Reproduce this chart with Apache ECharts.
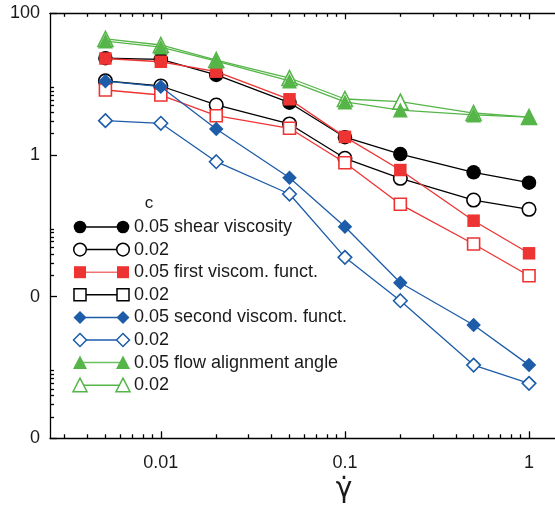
<!DOCTYPE html>
<html>
<head>
<meta charset="utf-8">
<script src="https://cdn.jsdelivr.net/npm/echarts@6/dist/echarts.min.js"></script>
<style>html,body{margin:0;padding:0;background:#fff;}#c{width:555px;height:516px;}</style>
</head>
<body>
<div id="c"></div>
<script>
// ---- data ----
const shearRate = [0.005, 0.01, 0.02, 0.05, 0.1, 0.2, 0.5, 1];
const shear005 = [23.2, 22.4, 13.5, 5.47, 1.78, 1.03, 0.569, 0.406];
const shear002 = [11.1, 9.41, 5.08, 2.74, 0.897, 0.468, 0.231, 0.171];
const visc1_005 = [23.0, 20.7, 15.0, 6.11, 1.80, 0.613, 0.118, 0.0409];
const visc1_002 = [8.26, 7.02, 3.58, 2.38, 0.777, 0.201, 0.0553, 0.0197];
const visc2_005 = [11.0, 9.20, 2.33, 0.478, 0.0971, 0.0157, 0.00397, 0.00108];
const visc2_002 = [3.05, 2.80, 0.803, 0.281, 0.0359, 0.00876, 0.00108, 0.000597];
const flow005 = [40.6, 33.4, 21.2, 11.1, 5.6, 4.31, 3.67, 3.43];
const flow002 = [43.4, 35.7, 21.9, 12.2, 6.17, 5.65, 3.91, 3.43];

const legendNames = ['0.05 shear viscosity', '0.02', '0.05 first viscom. funct.', '0.02',
  '0.05 second viscom. funct.', '0.02', '0.05 flow alignment angle', '0.02'];
const legendTitle = 'c';
const xAxisTitle = 'γ̇';

const xTickVals = [0.01, 0.1, 1];
const xTickLabels = ['0.01', '0.1', '1'];
const xMinorVals = [0.003,0.004,0.005,0.006,0.007,0.008,0.009,
  0.02,0.03,0.04,0.05,0.06,0.07,0.08,0.09,
  0.2,0.3,0.4,0.5,0.6,0.7,0.8,0.9];
const yTickVals = [0.0001, 0.01, 1, 100];
const yTickLabels = ['0', '0', '1', '100'];
const yMinorVals = [0.0002,0.0003,0.0004,0.0005,0.0006,0.0007,0.0008,0.0009,
  0.02,0.03,0.04,0.05,0.06,0.07,0.08,0.09,
  2,3,4,5,6,7,8,9];

// ---- styles ----
const BLACK = '#000000', RED = '#ee3333', BLUE = '#1c5ca8', GREEN = '#55b548';
const FONT = 'Liberation Sans, Arial, sans-serif';

function nearestLabel(v, vals, labels) {
  let best = 0, bd = Infinity;
  for (let i = 0; i < vals.length; i++) {
    const d = Math.abs(Math.log10(v) - Math.log10(vals[i]));
    if (d < bd) { bd = d; best = i; }
  }
  return labels[best];
}

const seriesDefs = [
  {data: shear005, color: BLACK, symbol: 'circle', size: 14.5, empty: false},
  {data: shear002, color: BLACK, symbol: 'circle', size: 13.5, empty: true},
  {data: visc1_005, color: RED, symbol: 'rect', size: 12.5, empty: false},
  {data: visc1_002, color: RED, symbol: 'rect', size: 12, empty: true},
  {data: visc2_005, color: BLUE, symbol: 'diamond', size: 14.5, empty: false},
  {data: visc2_002, color: BLUE, symbol: 'diamond', size: 13.5, empty: true},
  {data: flow002, color: GREEN, symbol: 'triangle', size: 15, empty: true},
  {data: flow005, color: GREEN, symbol: 'triangle', size: 15, empty: false}
];

const series = seriesDefs.map((d, i) => ({
  type: 'line',
  xAxisIndex: 0, yAxisIndex: 0,
  data: shearRate.map((x, k) => [x, d.data[k]]),
  symbol: d.symbol,
  symbolSize: d.size,
  showAllSymbol: true,
  z: 2 + i,
  lineStyle: {color: d.color, width: 1.3},
  itemStyle: d.empty ? {color: '#fff', borderColor: d.color, borderWidth: 1.6}
                     : {color: d.color, borderWidth: 0},
  emphasis: {disabled: true},
  animation: false
}));

// ---- legend (graphic) ----
const legendItems = [
  {shape: 'circle', fill: BLACK, stroke: BLACK, line: BLACK},
  {shape: 'circle', fill: '#fff', stroke: BLACK, line: BLACK},
  {shape: 'rect', fill: RED, stroke: RED, line: '#f07474'},
  {shape: 'rect', fill: '#fff', stroke: BLACK, line: BLACK},
  {shape: 'diamond', fill: BLUE, stroke: BLUE, line: BLUE},
  {shape: 'diamond', fill: '#fff', stroke: BLUE, line: BLUE},
  {shape: 'triangle', fill: GREEN, stroke: GREEN, line: '#6cc062'},
  {shape: 'triangle', fill: '#fff', stroke: GREEN, line: GREEN}
];
function markerGraphic(shape, cx, cy, fill, stroke) {
  const filled = fill !== '#fff';
  const style = {fill: fill, stroke: stroke, lineWidth: filled ? 0 : 1.5};
  const r = 6.5;
  if (shape === 'circle') return {type: 'circle', shape: {cx, cy, r: 6.3}, style};
  if (shape === 'rect') return {type: 'rect', shape: {x: cx - 6, y: cy - 6, width: 12, height: 12}, style};
  if (shape === 'diamond') return {type: 'polygon', shape: {points: [[cx, cy - r], [cx + r, cy], [cx, cy + r], [cx - r, cy]]}, style};
  return {type: 'polygon', shape: {points: [[cx, cy - 7], [cx + 7, cy + 6.5], [cx - 7, cy + 6.5]]}, style};
}
const graphics = [];
const lx0 = 80, lx1 = 123, ltx = 134, ly0 = 227, ldy = 22.6;
legendItems.forEach((it, i) => {
  const y = ly0 + i * ldy;
  graphics.push({type: 'line', shape: {x1: lx0, y1: y, x2: lx1, y2: y}, style: {stroke: it.line, lineWidth: 1.5}, z: 10});
  graphics.push(Object.assign(markerGraphic(it.shape, lx0, y, it.fill, it.stroke), {z: 11}));
  graphics.push(Object.assign(markerGraphic(it.shape, lx1, y, it.fill, it.stroke), {z: 11}));
  graphics.push({type: 'text', x: ltx, y: y, style: {text: legendNames[i], font: '18px ' + FONT, fill: '#1a1a1a', verticalAlign: 'middle', align: 'left'}, z: 11});
});
graphics.push({type: 'text', x: 149, y: 203, style: {text: legendTitle, font: '17px ' + FONT, fill: '#1a1a1a', verticalAlign: 'middle', align: 'center'}, z: 11});
graphics.push({type: 'text', x: 344, y: 490, style: {text: xAxisTitle, font: '28px DejaVu Sans, ' + FONT, fill: '#1a1a1a', verticalAlign: 'middle', align: 'center'}, z: 11});

const AX = {color: '#000', width: 1.3};
function xAxisDef(position, ticks, len, withLine, withLabel) {
  return {
    type: 'log', logBase: 10, min: 0.0025, max: 1.384, position: position,
    axisLine: {show: withLine, onZero: false, lineStyle: AX},
    axisTick: {show: true, inside: true, length: len, customValues: ticks, lineStyle: AX},
    axisLabel: withLabel ? {show: true, customValues: xTickVals, margin: 16, fontSize: 18, fontFamily: FONT, color: '#1a1a1a',
      formatter: (v) => nearestLabel(v, xTickVals, xTickLabels)} : {show: false},
    splitLine: {show: false}, minorTick: {show: false}
  };
}
function yAxisDef(ticks, len, withLine, withLabel) {
  return {
    type: 'log', logBase: 10, min: 0.0001, max: 100, position: 'left',
    axisLine: {show: withLine, onZero: false, lineStyle: AX},
    axisTick: {show: true, inside: true, length: len, customValues: ticks, lineStyle: AX},
    axisLabel: withLabel ? {show: true, customValues: yTickVals, margin: 10, fontSize: 18, fontFamily: FONT, color: '#1a1a1a',
      formatter: (v) => nearestLabel(v, yTickVals, yTickLabels)} : {show: false},
    splitLine: {show: false}, minorTick: {show: false}
  };
}

const chart = echarts.init(document.getElementById('c'), null, {renderer: 'canvas'});
chart.setOption({
  animation: false,
  backgroundColor: '#fff',
  grid: {left: 50, top: 13.3, right: 0, bottom: 77.7, containLabel: false},
  xAxis: [
    xAxisDef('bottom', xTickVals, 7, true, true),
    xAxisDef('bottom', xMinorVals, 4, false, false),
    xAxisDef('top', xTickVals, 6, true, false),
    xAxisDef('top', xMinorVals, 3.5, false, false)
  ],
  yAxis: [
    yAxisDef(yTickVals, 7, true, true),
    yAxisDef(yMinorVals, 4, false, false)
  ],
  series: series,
  graphic: graphics
});
</script>
</body>
</html>
